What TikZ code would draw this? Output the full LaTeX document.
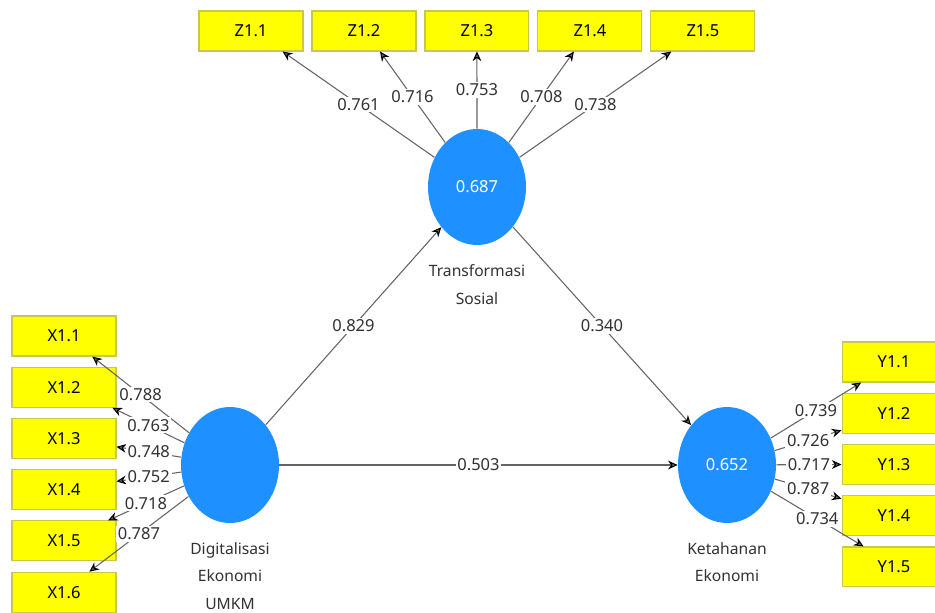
\documentclass[tikz,border=0pt]{standalone}
\usepackage{fontspec}
\setmainfont{Noto Sans}
\usepackage{tikz}
\usetikzlibrary{arrows.meta,shapes.geometric,positioning}

\definecolor{lvblue}{RGB}{30,144,255}
\definecolor{indyellow}{RGB}{255,255,0}
\definecolor{indborder}{RGB}{200,200,80}
\definecolor{pathgray}{RGB}{100,100,100}
\definecolor{labgray}{RGB}{50,50,50}

\begin{document}
\begin{tikzpicture}[x=0.02cm, y=-0.02cm, node distance=1.025cm and 2.26cm, on grid,
  font=\fontsize{9.4}{15.4}\selectfont]
  \tikzstyle{latent}=[ellipse, fill=lvblue, text=white, minimum width=1.96cm, minimum height=2.32cm, inner sep=0pt]
  \tikzstyle{indicator}=[rectangle, fill=indyellow, draw=indborder, line width=0.6pt, minimum width=2.08cm, minimum height=0.8cm, text=black]
  \tikzstyle{caption}=[align=center, text=labgray, inner sep=0pt, anchor=north, font=\fontsize{8.9}{15.4}\selectfont]
  \tikzstyle{load}=[color=pathgray, line width=0.6pt, -{Stealth[length=5.5pt,width=5pt,black]}]
  \tikzstyle{coef}=[fill=white, text=labgray, inner sep=1pt]

  \useasboundingbox (0,0) rectangle (935,612);
  \clip (0,0) rectangle (935,612);
  \fill[white] (0,0) rectangle (935,612);

  \node[latent]  (dz) at (477,187)  {0.687};
  \node[latent]  (dx) at (230,465)  {};
  \node[latent]  (dy) at (727,465)  {0.652};

  \node[caption] (cz) at ([yshift=-11pt]dz.south) {Transformasi\\Sosial};
  \node[caption] (cx) at ([yshift=-11pt]dx.south) {Digitalisasi\\Ekonomi\\UMKM};
  \node[caption] (cy) at ([yshift=-11pt]dy.south) {Ketahanan\\Ekonomi};

  \node[indicator] (z1) at (251,31) {Z1.1};
  \node[indicator, right=of z1] (z2) {Z1.2};
  \node[indicator, right=of z2] (z3) {Z1.3};
  \node[indicator, right=of z3] (z4) {Z1.4};
  \node[indicator, right=of z4] (z5) {Z1.5};

  \node[indicator] (x1) at (64,336) {X1.1};
  \node[indicator, below=of x1] (x2) {X1.2};
  \node[indicator, below=of x2] (x3) {X1.3};
  \node[indicator, below=of x3] (x4) {X1.4};
  \node[indicator, below=of x4] (x5) {X1.5};
  \node[indicator, below=of x5] (x6) {X1.6};

  \node[indicator] (y1) at (894,362) {Y1.1};
  \node[indicator, below=of y1] (y2) {Y1.2};
  \node[indicator, below=of y2] (y3) {Y1.3};
  \node[indicator, below=of y3] (y4) {Y1.4};
  \node[indicator, below=of y4] (y5) {Y1.5};

  \path[load]
  (dx) edge node[coef] {0.829} (dz)
  (dz) edge node[coef] {0.340} (dy)
  (dx) edge node[coef] {0.503} (dy)
  (dz) edge node[coef] {0.761} (z1.-33)
  (dz) edge node[coef] {0.716} (z2.-52)
  (dz) edge node[coef] {0.753} (z3.south)
  (dz) edge node[coef] {0.708} (z4.-128)
  (dz) edge node[coef] {0.738} (z5.-147)
  (dx) edge node[coef] {0.788} (x1.-36)
  (dx) edge node[coef] {0.763} (x2.-23)
  (dx) edge node[coef] {0.748} (x3.-9)
  (dx) edge node[coef] {0.752} (x4.9)
  (dx) edge node[coef] {0.718} (x5.25)
  (dx) edge node[coef] {0.787} (x6.39)
  (dy) edge node[coef] {0.739} (y1.212)
  (dy) edge node[coef] {0.726} (y2.198)
  (dy) edge node[coef] {0.717} (y3.west)
  (dy) edge node[coef] {0.787} (y4.162)
  (dy) edge node[coef] {0.734} (y5.146);
\end{tikzpicture}
\end{document}
